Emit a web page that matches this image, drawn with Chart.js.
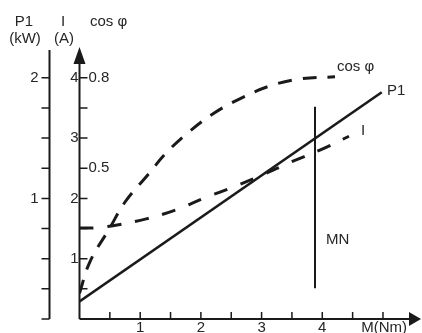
<!DOCTYPE html>
<html>
<head>
<meta charset="utf-8">
<script src="https://cdn.jsdelivr.net/npm/chart.js@4.4.1/dist/chart.umd.min.js"></script>
<style>
  html, body { margin: 0; padding: 0; background: #fff; }
  #wrap { width: 422px; height: 333px; }
</style>
</head>
<body>
<div id="wrap"><canvas id="motorChart"></canvas></div>
<script>
// === data ===
// cos φ curve (torque in Nm, cos φ)
const cosTorque = [0, 0.17, 0.5, 0.75, 1.11, 1.43, 1.80, 2.22, 2.64, 3.14, 3.63, 4.21];
const cosValues = [0.085, 0.189, 0.302, 0.388, 0.474, 0.551, 0.620, 0.683, 0.730, 0.773, 0.796, 0.803];

// current I (A)
const iTorque = [0, 0.24, 0.62, 1.10, 1.59, 2.07, 2.56, 3.04, 3.48, 3.96, 4.44];
const iValues = [1.51, 1.51, 1.56, 1.66, 1.81, 2.01, 2.20, 2.40, 2.60, 2.80, 3.03];

// input power P1 (kW), straight line
const pTorque = [0, 4.98];
const pValues = [0.145, 1.88];

// rated torque MN marker (in A units on the I axis)
const mnTorque = [3.88, 3.88];
const mnValues = [0.51, 3.52];

// ticks and labels
const xTicks = [0.5, 1, 1.5, 2, 2.5, 3, 3.5, 4, 4.5, 5];
const xLabels = [1, 2, 3, 4];
const iTicks = [0.5, 1, 1.5, 2, 2.5, 3, 3.5, 4];
const iLabels = [1, 2, 3, 4];
const cosLabels = [0.5, 0.8];
const pTicks = [0, 0.25, 0.5, 0.75, 1, 1.25, 1.5, 1.75, 2];
const pLabels = [1, 2];

const toPoints = (xs, ys) => xs.map((x, i) => ({ x: x, y: ys[i] }));

const FONT = '15px "Liberation Sans", Arial, sans-serif';
const INK = '#1a1a1a';
const TEXT = '#262626';

// axes, ticks and texts drawn from the chart's own scales
const axesPlugin = {
  id: 'motorAxes',
  afterDatasetsDraw(chart) {
    const ctx = chart.ctx;
    const sx = chart.scales.x, si = chart.scales.y, sp = chart.scales.yp, sc = chart.scales.yc;
    const x0 = sx.getPixelForValue(0);
    const y0 = si.getPixelForValue(0);
    const top = chart.chartArea.top;
    const right = chart.chartArea.right;
    const px = x0 - 30; // P1 axis

    ctx.save();
    ctx.strokeStyle = INK;
    ctx.fillStyle = INK;
    ctx.lineWidth = 2;

    // I axis with arrow
    ctx.beginPath();
    ctx.moveTo(x0, y0); ctx.lineTo(x0, top + 12);
    ctx.stroke();
    ctx.beginPath();
    ctx.moveTo(x0, top); ctx.lineTo(x0 - 6, top + 17); ctx.lineTo(x0 + 6, top + 17);
    ctx.closePath(); ctx.fill();

    // x axis with arrow
    ctx.beginPath();
    ctx.moveTo(x0, y0); ctx.lineTo(right - 8, y0);
    ctx.stroke();
    ctx.beginPath();
    ctx.moveTo(right + 1, y0); ctx.lineTo(right - 11, y0 - 7); ctx.lineTo(right - 11, y0 + 7);
    ctx.closePath(); ctx.fill();

    // P1 axis
    ctx.beginPath();
    ctx.moveTo(px, y0); ctx.lineTo(px, top + 3);
    ctx.stroke();

    ctx.lineWidth = 1.5;
    ctx.beginPath();
    xTicks.forEach(v => {
      const x = sx.getPixelForValue(v);
      ctx.moveTo(x, y0); ctx.lineTo(x, y0 - 7);
    });
    iTicks.forEach(v => {
      const y = si.getPixelForValue(v);
      ctx.moveTo(x0, y); ctx.lineTo(x0 + 8, y);
    });
    pTicks.forEach(v => {
      const y = sp.getPixelForValue(v);
      ctx.moveTo(px, y); ctx.lineTo(px - 8, y);
    });
    ctx.stroke();

    ctx.fillStyle = TEXT;
    ctx.font = FONT;
    ctx.textBaseline = 'middle';
    ctx.textAlign = 'center';
    xLabels.forEach(v => ctx.fillText(String(v), sx.getPixelForValue(v), y0 + 9));
    ctx.textAlign = 'right';
    iLabels.forEach(v => ctx.fillText(String(v), x0 - 1, si.getPixelForValue(v)));
    pLabels.forEach(v => ctx.fillText(String(v), px - 11, sp.getPixelForValue(v)));
    ctx.fillText('M(Nm)', 407, y0 + 9);
    ctx.textAlign = 'left';
    cosLabels.forEach(v => ctx.fillText(String(v), x0 + 9, sc.getPixelForValue(v)));

    // header labels
    ctx.textAlign = 'center';
    ctx.fillText('P1', 24, 22);
    ctx.fillText('(kW)', 25, 39);
    ctx.fillText('I', 63, 22);
    ctx.fillText('(A)', 64, 39);
    ctx.textAlign = 'left';
    ctx.fillText('cos φ', 90, 22);

    // curve labels
    ctx.fillText('cos φ', 337, 67);
    ctx.fillText('P1', 387, 91);
    ctx.fillText('I', 361, 131);
    ctx.fillText('MN', 326, 240);
    ctx.restore();
  }
};

new Chart(document.getElementById('motorChart'), {
  type: 'line',
  data: {
    datasets: [
      { label: 'P1', data: toPoints(pTorque, pValues), yAxisID: 'yp',
        borderColor: INK, borderWidth: 2.6, pointRadius: 0, tension: 0 },
      { label: 'cos φ', data: toPoints(cosTorque, cosValues), yAxisID: 'yc',
        borderColor: INK, borderWidth: 3, borderDash: [14, 11], pointRadius: 0, tension: 0.4 },
      { label: 'I', data: toPoints(iTorque, iValues), yAxisID: 'y',
        borderColor: INK, borderWidth: 3, borderDash: [14, 14], pointRadius: 0, tension: 0.4 },
      { label: 'MN', data: toPoints(mnTorque, mnValues), yAxisID: 'y',
        borderColor: INK, borderWidth: 2, pointRadius: 0, tension: 0 }
    ]
  },
  options: {
    responsive: true,
    maintainAspectRatio: false,
    animation: false,
    layout: { padding: { left: 79.5, right: 2, top: 47, bottom: 14 } },
    plugins: { legend: { display: false }, tooltip: { enabled: false } },
    scales: {
      x: { type: 'linear', display: false, min: 0, max: 5.61 },
      y: { type: 'linear', display: false, min: 0, max: 4.51 },
      yp: { type: 'linear', display: false, min: 0, max: 4.51 / 2 },
      yc: { type: 'linear', display: false, min: 0, max: 4.51 * 0.2 }
    }
  },
  plugins: [axesPlugin]
});
</script>
</body>
</html>
